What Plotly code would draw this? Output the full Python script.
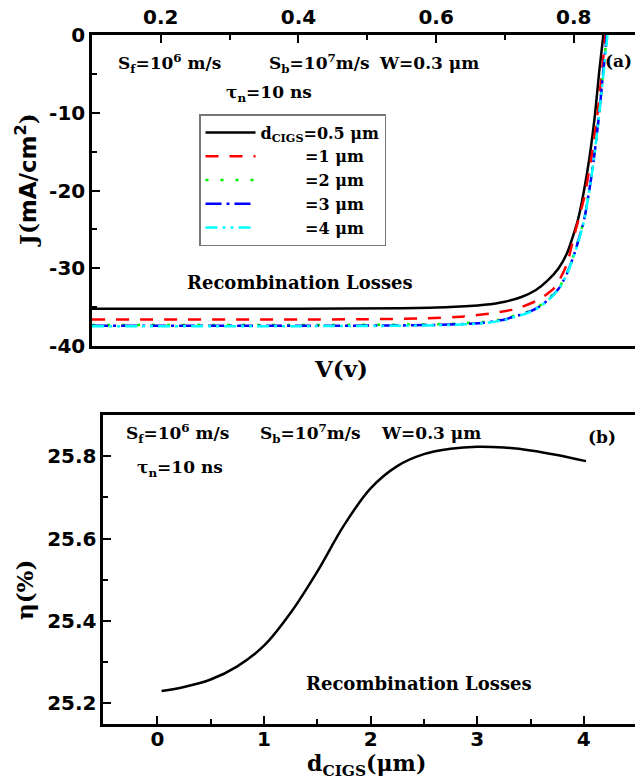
import plotly.graph_objects as go

W, H = 635, 782

# ---------------- Panel (a): J-V curves ----------------
v_05 = [0.10, 0.40, 0.55, 0.62, 0.67, 0.70, 0.724, 0.745, 0.763, 0.778, 0.790, 0.806, 0.820, 0.830, 0.8373, 0.843]
j_05 = [-35.2, -35.2, -35.15, -35.0, -34.7, -34.3, -33.7, -32.8, -31.5, -30.0, -28.1, -23.8, -17.4, -10.9, -4.5, 0.0]

v_1 = [0.10, 0.40, 0.50, 0.58, 0.64, 0.68, 0.71, 0.724, 0.75, 0.773, 0.79, 0.800, 0.815, 0.826, 0.836, 0.846]
j_1 = [-36.6, -36.6, -36.55, -36.45, -36.2, -35.8, -35.35, -35.0, -34.0, -32.4, -29.5, -26.0, -21.0, -15.5, -9.0, 0.0]

v_2 = [0.10, 0.40, 0.55, 0.62, 0.67, 0.70, 0.71, 0.73, 0.749, 0.765, 0.780, 0.791, 0.801, 0.815, 0.827, 0.836, 0.848]
j_2 = [-37.3, -37.3, -37.25, -37.15, -36.9, -36.5, -36.2, -35.7, -34.9, -33.8, -32.3, -30.4, -28.0, -23.7, -17.3, -10.8, 0.0]

v_3 = [0.10, 0.40, 0.55, 0.62, 0.67, 0.70, 0.71, 0.73, 0.749, 0.765, 0.780, 0.791, 0.801, 0.815, 0.827, 0.836, 0.848]
j_3 = [-37.4, -37.4, -37.35, -37.25, -37.0, -36.6, -36.3, -35.8, -35.0, -33.9, -32.4, -30.5, -28.1, -23.8, -17.4, -10.9, 0.0]

v_4 = [0.10, 0.40, 0.55, 0.62, 0.67, 0.70, 0.71, 0.73, 0.749, 0.765, 0.780, 0.791, 0.801, 0.815, 0.827, 0.836, 0.849]
j_4 = [-37.45, -37.45, -37.4, -37.3, -37.05, -36.65, -36.35, -35.85, -35.05, -33.95, -32.45, -30.55, -28.2, -23.9, -17.5, -11.0, 0.0]

series_names = ["d<sub>CIGS</sub>=0.5 μm", "=1 μm", "=2 μm", "=3 μm", "=4 μm"]
series_colors = ["#000000", "#FF0000", "#00EE00", "#0000FF", "#00FFFF"]
series_dash = ["solid", "13px,11px", "3px,12px", "16px,5px,3px,5px", "12px,5px,3px,5px,3px,5px"]

top_xticks = [0.2, 0.4, 0.6, 0.8]
top_yticks = [-40, -30, -20, -10, 0]

# ---------------- Panel (b): efficiency vs thickness ----------------
d_cigs = [0.04, 0.25, 0.50, 0.75, 1.00, 1.25, 1.50, 1.75, 2.00, 2.25, 2.50, 2.75, 3.00, 3.25, 3.50, 3.75, 4.02]
eta = [25.230, 25.240, 25.258, 25.290, 25.340, 25.420, 25.520, 25.632, 25.722, 25.776, 25.805, 25.818, 25.823, 25.821, 25.814, 25.803, 25.788]

bot_xticks = [0, 1, 2, 3, 4]
bot_yticks = [25.2, 25.4, 25.6, 25.8]

fig = go.Figure()

pad = "\u00a0" * 8
data_sets = [(v_05, j_05), (v_1, j_1), (v_2, j_2), (v_3, j_3), (v_4, j_4)]
for i, (vx, jy) in enumerate(data_sets):
    name = series_names[i] if i == 0 else pad + series_names[i]
    fig.add_trace(go.Scatter(
        x=vx, y=jy, mode="lines", name=name,
        line=dict(color=series_colors[i], width=2.5, dash=series_dash[i], shape="spline", smoothing=0.6),
        xaxis="x", yaxis="y",
    ))

fig.add_trace(go.Scatter(
    x=d_cigs, y=eta, mode="lines", showlegend=False,
    line=dict(color="black", width=2.5, shape="spline"),
    xaxis="x2", yaxis="y2",
))

tickfont = dict(family="DejaVu Sans", size=20, color="black", weight="bold")
axis_common = dict(showgrid=False, zeroline=False, showline=True, linecolor="black",
                   linewidth=2.5, ticks="inside", ticklen=8, tickwidth=2, tickcolor="black",
                   tickfont=tickfont, automargin=False)

fig.update_layout(
    width=W, height=H,
    margin=dict(l=0, r=0, t=0, b=0),
    paper_bgcolor="white", plot_bgcolor="white",
    xaxis=dict(domain=[92 / W, 1], anchor="y", side="top", range=[0.1, 0.889],
               tickvals=top_xticks, ticktext=[f"{t:.1f}" for t in top_xticks], mirror=True,
               minor=dict(tickvals=[0.3, 0.5, 0.7], ticks="inside", ticklen=5, tickwidth=2, tickcolor="black"),
               **axis_common),
    yaxis=dict(domain=[1 - 346 / H, 1 - 35 / H], anchor="x", range=[-40, 0],
               tickvals=top_yticks, ticktext=[str(t) for t in top_yticks],
               minor=dict(tickvals=[-35, -25, -15, -5], ticks="inside", ticklen=5, tickwidth=2, tickcolor="black"),
               **axis_common),
    xaxis2=dict(domain=[103.3 / W, 1], anchor="y2", range=[-0.507, 4.48],
                tickvals=bot_xticks, ticktext=[str(t) for t in bot_xticks], mirror=True,
                ticklabelstandoff=-5,
                minor=dict(tickvals=[0.5, 1.5, 2.5, 3.5], ticks="inside", ticklen=5, tickwidth=2, tickcolor="black"),
                **axis_common),
    yaxis2=dict(domain=[1 - 724 / H, 1 - 415 / H], anchor="x2", range=[25.15, 25.9],
                tickvals=bot_yticks, ticktext=[f"{t:.1f}" for t in bot_yticks],
                minor=dict(tickvals=[25.3, 25.5, 25.7], ticks="inside", ticklen=5, tickwidth=2, tickcolor="black"),
                **axis_common),
    legend=dict(x=199 / W, y=1 - 114 / H, xanchor="left", yanchor="top",
                bordercolor="#777777", borderwidth=1.5, bgcolor="white",
                font=dict(family="DejaVu Serif", size=16, color="black", weight="bold"),
                itemwidth=50, tracegroupgap=0),
    showlegend=True,
)

serif = dict(family="DejaVu Serif", size=17, color="black", weight="bold")
serif_big = dict(family="DejaVu Serif", size=18, color="black", weight="bold")
title_font = dict(family="DejaVu Serif", size=23, color="black", weight="bold")
title_font_b = dict(family="DejaVu Serif", size=22, color="black", weight="bold")


def ann(text, px, py, font=serif, xanchor="left", textangle=0):
    fig.add_annotation(text=text, x=px / W, y=1 - py / H, xref="paper", yref="paper",
                       xanchor=xanchor, yanchor="middle", showarrow=False,
                       font=font, textangle=textangle)


# panel (a) texts
ann("S<sub>f</sub>=10<sup>6</sup> m/s", 116, 63)
ann("S<sub>b</sub>=10<sup>7</sup>m/s", 267, 63)
ann("W=0.3 μm", 377, 63)
ann("(a)", 634, 61, xanchor="right")
ann("τ<sub>n</sub>=10 ns", 224, 93)
ann("Recombination Losses", 185, 282, font=serif_big)
ann("V(v)", 341, 368, font=title_font, xanchor="center")
ann("J(<span style='font-family:DejaVu Sans'>mA/cm<sup>2</sup></span>)", 26, 180,
    font=title_font, xanchor="center", textangle=-90)

# panel (b) texts
ann("S<sub>f</sub>=10<sup>6</sup> m/s", 124, 433)
ann("S<sub>b</sub>=10<sup>7</sup>m/s", 258, 433)
ann("W=0.3 μm", 379, 433)
ann("(b)", 586, 437)
ann("τ<sub>n</sub>=10 ns", 135, 468)
ann("Recombination Losses", 304, 683, font=serif_big)
ann("d<sub>CIGS</sub>(μm)", 366, 765, font=title_font_b, xanchor="center")
ann("η(%)", 24, 590, font=title_font, xanchor="center", textangle=-90)

fig.write_html(
    "out.html",
    config={"displayModeBar": False},
    post_script="document.body.style.margin='0';document.body.style.overflow='hidden';",
)
